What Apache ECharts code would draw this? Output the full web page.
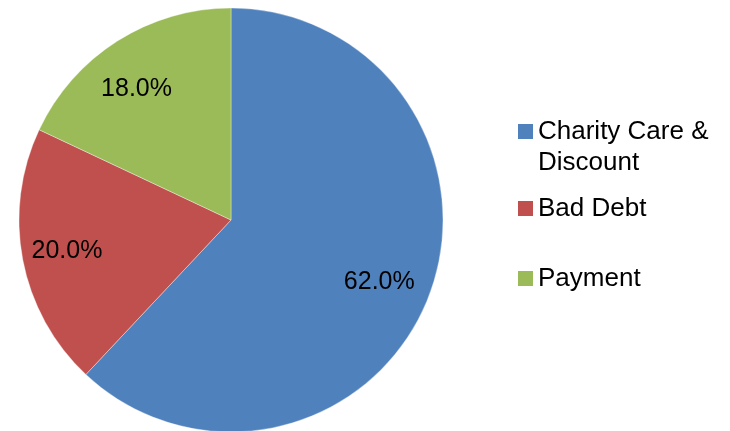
<!DOCTYPE html>
<html>
<head>
<meta charset="utf-8">
<script src="https://cdn.jsdelivr.net/npm/echarts@6/dist/echarts.min.js"></script>
<style>
  html, body { margin: 0; padding: 0; background: #ffffff; }
  #chart { width: 730px; height: 431px; }
</style>
</head>
<body>
<div id="chart"></div>
<script>
// Share of uncompensated care by category (percent)
const categories = ['Charity Care & Discount', 'Bad Debt', 'Payment'];
const shares = [62.0, 20.0, 18.0];
const colors = ['#4F81BD', '#C0504D', '#9BBB59'];
// small nudges for the percentage labels
const labelOffsets = [[-7, 1], [0, 0], [-5, 10]];

const FONT = '"Liberation Sans", Arial, sans-serif';
const center = [231, 220];
const outer = 212;

const sliceData = categories.map((name, i) => ({
  name: name,
  value: shares[i],
  itemStyle: { color: colors[i] }
}));

// One legend per entry so each can sit at its own vertical position
function legendFor(name, top, formatter) {
  return {
    data: [name],
    orient: 'vertical',
    left: 518,
    top: top,
    padding: 0,
    icon: 'rect',
    itemWidth: 15,
    itemHeight: 15,
    itemStyle: { borderWidth: 0 },
    selectedMode: false,
    formatter: formatter,
    textStyle: {
      fontFamily: FONT,
      fontSize: 26,
      lineHeight: 31,
      color: '#000000'
    }
  };
}

const chart = echarts.init(document.getElementById('chart'), null, { renderer: 'canvas' });
chart.setOption({
  animation: false,
  backgroundColor: '#ffffff',
  legend: [
    // leading blank line keeps the marker level with the first text line
    legendFor(categories[0], 85, function (n) { return '\n' + n.replace(' & ', ' &\n'); }),
    legendFor(categories[1], 193),
    legendFor(categories[2], 263)
  ],
  series: [
    {
      type: 'pie',
      center: center,
      radius: [0, outer],
      startAngle: 90,
      clockwise: true,
      silent: true,
      label: { show: false },
      labelLine: { show: false },
      itemStyle: { borderColor: 'rgba(255,255,255,0.6)', borderWidth: 0.6 },
      data: sliceData
    },
    {
      // transparent ring that carries the percentage labels
      type: 'pie',
      center: center,
      radius: [116, outer],
      startAngle: 90,
      clockwise: true,
      silent: true,
      itemStyle: { color: 'rgba(0,0,0,0)', borderWidth: 0 },
      label: {
        show: true,
        position: 'inside',
        fontFamily: FONT,
        fontSize: 25,
        color: '#000000',
        formatter: function (p) { return p.value.toFixed(1) + '%'; }
      },
      labelLine: { show: false },
      data: categories.map((name, i) => ({
        name: name,
        value: shares[i],
        label: { offset: labelOffsets[i] }
      }))
    }
  ]
});
</script>
</body>
</html>
